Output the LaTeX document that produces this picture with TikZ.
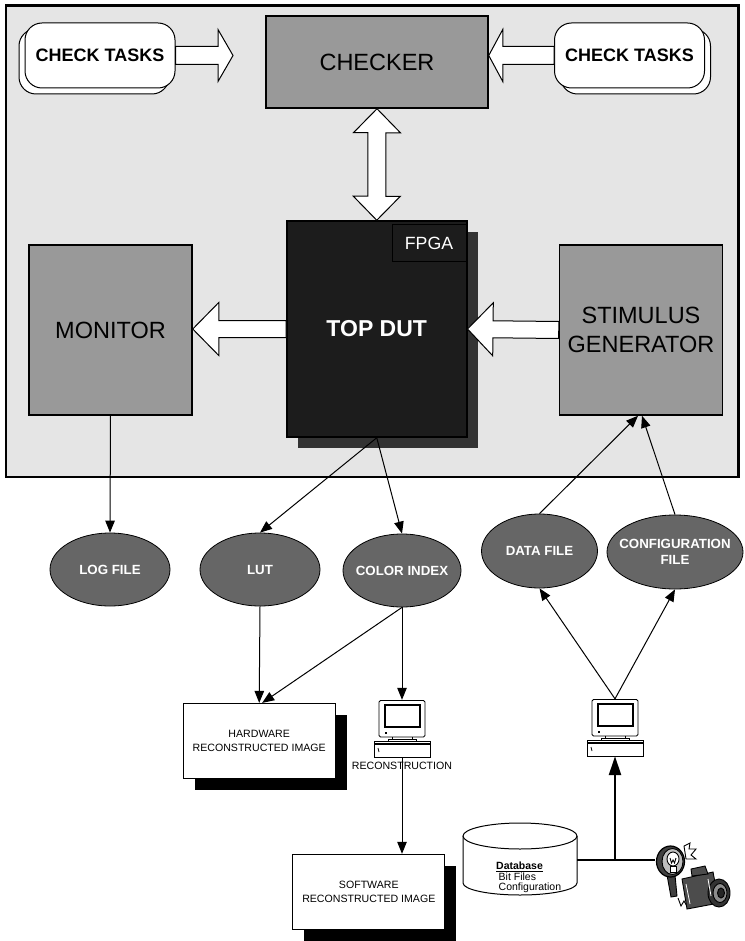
\documentclass[tikz,border=0pt]{standalone}
\usepackage{fontspec}
\setmainfont{Liberation Sans}
\usetikzlibrary{positioning,calc,shapes.geometric,shadows,arrows.meta}

\newcommand{\fatarrow}[5]{%
  \path ($(#2)!#5!(#1)$) coordinate (fa-b);
  \draw[blockarrow] ($(#1)!#3!90:(#2)$) -- ($(fa-b)!#3!90:(#2)$)
    -- ($(fa-b)!#4!90:(#2)$) -- (#2) -- ($(fa-b)!#4!-90:(#2)$)
    -- ($(fa-b)!#3!-90:(#2)$) -- ($(#1)!#3!-90:(#2)$) -- cycle;
}
\newcommand{\fatdarrow}[5]{%
  \path ($(#1)!#5!(#2)$) coordinate (fa-a) ($(#2)!#5!(#1)$) coordinate (fa-b);
  \draw[blockarrow] (#1) -- ($(fa-a)!#4!90:(#2)$) -- ($(fa-a)!#3!90:(#2)$)
    -- ($(fa-b)!#3!90:(#2)$) -- ($(fa-b)!#4!90:(#2)$) -- (#2)
    -- ($(fa-b)!#4!-90:(#2)$) -- ($(fa-b)!#3!-90:(#2)$)
    -- ($(fa-a)!#3!-90:(#2)$) -- ($(fa-a)!#4!-90:(#2)$) -- cycle;
}
\newcommand{\pcicon}[1]{%
  \begin{scope}[shift={(#1.center)}, line width=0.8pt]
    \draw[fill=white, rounded corners=1.5pt] (-23,-28) rectangle (23,8.5);
    \draw[fill=white, line width=2pt] (-17.5,-24) rectangle (18,-2);
    \fill (-17.5,3.5) rectangle (-15,5.5);
    \draw (-10,8.5) -- (-10,11) (10,8.5) -- (10,11);
    \draw[fill=white] (-14,11) rectangle (14,12.5);
    \draw[fill=white] (-28,12.5) rectangle (28,28.5);
    \fill (-27.5,14.5) rectangle (27.5,16.5);
    \draw (-24,19.5) -- (-23,23.5);
  \end{scope}}
\newcommand{\dbicon}[1]{%
  \begin{scope}[shift={(#1.center)}, line width=1pt]
    \draw[fill=white] (-57,-24) -- (-57,23)
      arc[start angle=180, end angle=0, x radius=57, y radius=12] -- (57,-24);
    \draw[fill=white] (0,-24) ellipse [x radius=57, y radius=13];
  \end{scope}}
\newcommand{\flashcamera}[1]{%
  \begin{scope}[shift={(#1.center)}, line width=0.9pt]
    \draw (-17,22) -- (-14,30) -- (-11,25) -- (-7,32) -- (-4,26) -- (0,31)
      -- (2,25) -- (6,28) -- (9,20);
    \draw[fill=black!75] (-28,-1) -- (-20,-1) -- (-18,20) -- (-24,21) -- cycle;
    \draw[fill=black!75, line width=1.2pt] (-24.5,-14.5) ellipse [x radius=14, y radius=15.5];
    \draw[fill=black!25] (-22.5,-14.5) ellipse [x radius=10.5, y radius=13];
    \draw[fill=white] (-25,-10) rectangle (-19,-4);
    \draw[fill=white] (-22,-17) ellipse [x radius=6, y radius=7];
    \draw (-25,-18) -- (-23.5,-13) -- (-22,-16) -- (-20.5,-13) -- (-19,-18);
    \draw[fill=white] (-11,-30) -- (-5,-33) -- (-6,-27) -- (1,-27) -- (-4,-21)
      -- (1,-17) -- (-9,-17) -- cycle;
    \draw[fill=black!70] (-13,3) -- (18,-4) -- (24,27) -- (-8,33) -- cycle;
    \draw[fill=black!70] (-3,0) -- (-4,-7) -- (10,-10) -- (13,-2) -- cycle;
    \draw[fill=black!80] (24,17) ellipse [x radius=11, y radius=14];
    \draw[fill=black!45] (25,17) ellipse [x radius=7, y radius=9.5];
    \draw[fill=black!85] (26,17) ellipse [x radius=3.5, y radius=5];
    \draw[white, line width=0.8pt] (-9,8) -- (-5,28) (13,3) -- (16,20);
  \end{scope}}

\begin{document}
\begin{tikzpicture}[x=1pt, y=-1pt,
  bench/.style={draw, line width=2.3pt, fill=black!10},
  tbblock/.style={draw, line width=1.5pt, fill=black!40, inner sep=0pt, align=center,
    minimum width=163, minimum height=170, font=\fontsize{23.5}{29}\selectfont},
  tasks/.style={draw, line width=1pt, fill=white, rounded corners=17pt, inner sep=0pt,
    minimum width=150, minimum height=65, font=\fontsize{18}{21}\selectfont\bfseries},
  dut/.style={draw, line width=1.5pt, fill=black!89, text=white, inner sep=0pt,
    minimum width=180, minimum height=216, font=\fontsize{23}{27}\selectfont\bfseries,
    general shadow={fill=black!80, shadow xshift=11pt, shadow yshift=-11pt}},
  chip/.style={draw, line width=1pt, fill=black!89, text=white, inner sep=0pt,
    minimum width=74, minimum height=37, font=\fontsize{17.7}{20}\selectfont},
  store/.style={ellipse, draw, line width=0.8pt, fill=black!60, text=white,
    inner xsep=-8pt, inner ysep=0pt, align=center, font=\fontsize{13.3}{16.5}\selectfont\bfseries},
  picbox/.style={draw, line width=0.8pt, fill=white, minimum width=152, minimum height=75,
    align=center, font=\fontsize{10.6}{13.3}\selectfont,
    general shadow={fill=black, shadow xshift=11.5pt, shadow yshift=-12pt}},
  computer/.style={minimum width=57, minimum height=57, inner sep=0pt},
  camera/.style={minimum width=80, minimum height=72, inner sep=0pt},
  database/.style={minimum width=114, minimum height=74, inner sep=0pt},
  smalltext/.style={font=\fontsize{10.6}{13.3}\selectfont},
  flow/.style={line width=1pt, -{Triangle[length=12pt, width=9.5pt]}},
  feed/.style={line width=2.6pt},
  blockarrow/.style={draw, fill=white, line width=1pt}
]
\useasboundingbox (0,0) rectangle (744,941);
\draw[bench] (6,5.5) rectangle (738.5,477);

\node[tbblock, minimum width=222, minimum height=92] (checker) at (377,62) {CHECKER};
\node[tasks, general shadow={fill=white, draw=black, line width=1pt,
  shadow xshift=-6pt, shadow yshift=-6pt}] (lt) at (100,55.5) {CHECK TASKS};
\node[tasks, general shadow={fill=white, draw=black, line width=1pt,
  shadow xshift=6pt, shadow yshift=-6pt}] (rt) at (629.5,55.5) {CHECK TASKS};
\node[dut] (dut) at (376.75,329) {TOP DUT};
\node[chip, anchor=north east] (fpga) at ([shift={(-1,4)}]dut.north east) {FPGA};
\node[tbblock] (mon) at (110.5,330) {MONITOR};
\node[tbblock] (stim) at (641,330) {STIMULUS\\GENERATOR};

\coordinate (lt-tip) at (233,55.5);
\coordinate (rt-tip) at (checker.east |- rt.west);
\coordinate (mon-tip) at (mon.east |- dut.west);
\fatarrow{lt.east}{lt-tip}{9pt}{26pt}{15pt}
\fatarrow{rt.west}{rt-tip}{9pt}{26pt}{14pt}
\fatdarrow{checker.south}{dut.north}{9pt}{23.5pt}{24pt}
\fatarrow{dut.west}{mon-tip}{8.5pt}{26.5pt}{26pt}
\fatarrow{stim.west}{dut.east}{8.5pt}{26.5pt}{25.5pt}

\node[store, minimum width=120, minimum height=73] (log) at (110,569.5) {LOG FILE};
\node[store, minimum width=120, minimum height=73] (lut) at (260,569.5) {LUT};
\node[store, minimum width=118, minimum height=73] (cidx) at (402,570.5) {COLOR INDEX};
\node[store, minimum width=116, minimum height=74] (data) at (539.5,551) {DATA FILE};
\node[store, minimum width=136, minimum height=74] (conf) at (675,552) {CONFIGURATION\\FILE};

\node[picbox] (hw) at (259.2,740.8) {HARDWARE\\RECONSTRUCTED IMAGE};
\node[picbox] (sw) at (368.8,891.7) {SOFTWARE\\RECONSTRUCTED IMAGE};

\node[computer] (pc1) at (402,728.5) {};
\pcicon{pc1}
\node[smalltext, inner sep=0pt, below=5pt of pc1] (pc1-label) {RECONSTRUCTION};
\node[computer] (pc2) at (615,727.5) {};
\pcicon{pc2}

\node[database] (db) at (520,860) {};
\dbicon{db}
\node[align=left, anchor=north west, inner sep=0pt, font=\fontsize{10.5}{10.5}\selectfont]
  (db-text) at ([shift={(-24,1.7)}]db.center)
  {\underline{\textbf{Database}}\\\hspace*{2.5pt}Bit Files\\\hspace*{2.5pt}Configuration};
\node[camera] (cam) at (695,876) {};
\flashcamera{cam}

\draw[flow] (mon.south) -- (log.north);
\draw[flow] (dut.south) -- (lut.north);
\draw[flow] (dut.south) -- (cidx.north);
\draw[flow] (data.north) -- ([xshift=-3pt]stim.south);
\draw[flow] (conf.north) -- ([xshift=1pt]stim.south);
\draw[flow] (lut.south) -- (hw.north);
\draw[flow] (cidx.south) -- ([xshift=3pt]hw.north);
\draw[flow] (cidx.south) -- (pc1.north);
\draw[flow] (pc1.south) -- (pc1.south |- sw.north);
\draw[flow] (pc2.north) -- (data.south);
\draw[flow] (pc2.north) -- (conf.south);
\draw[feed] (db.east) -- (db.east -| cam.west);
\draw[feed, -{Triangle[length=19pt, width=12pt]}] (db.east -| pc2.south) -- (pc2.south);
\end{tikzpicture}
\end{document}
